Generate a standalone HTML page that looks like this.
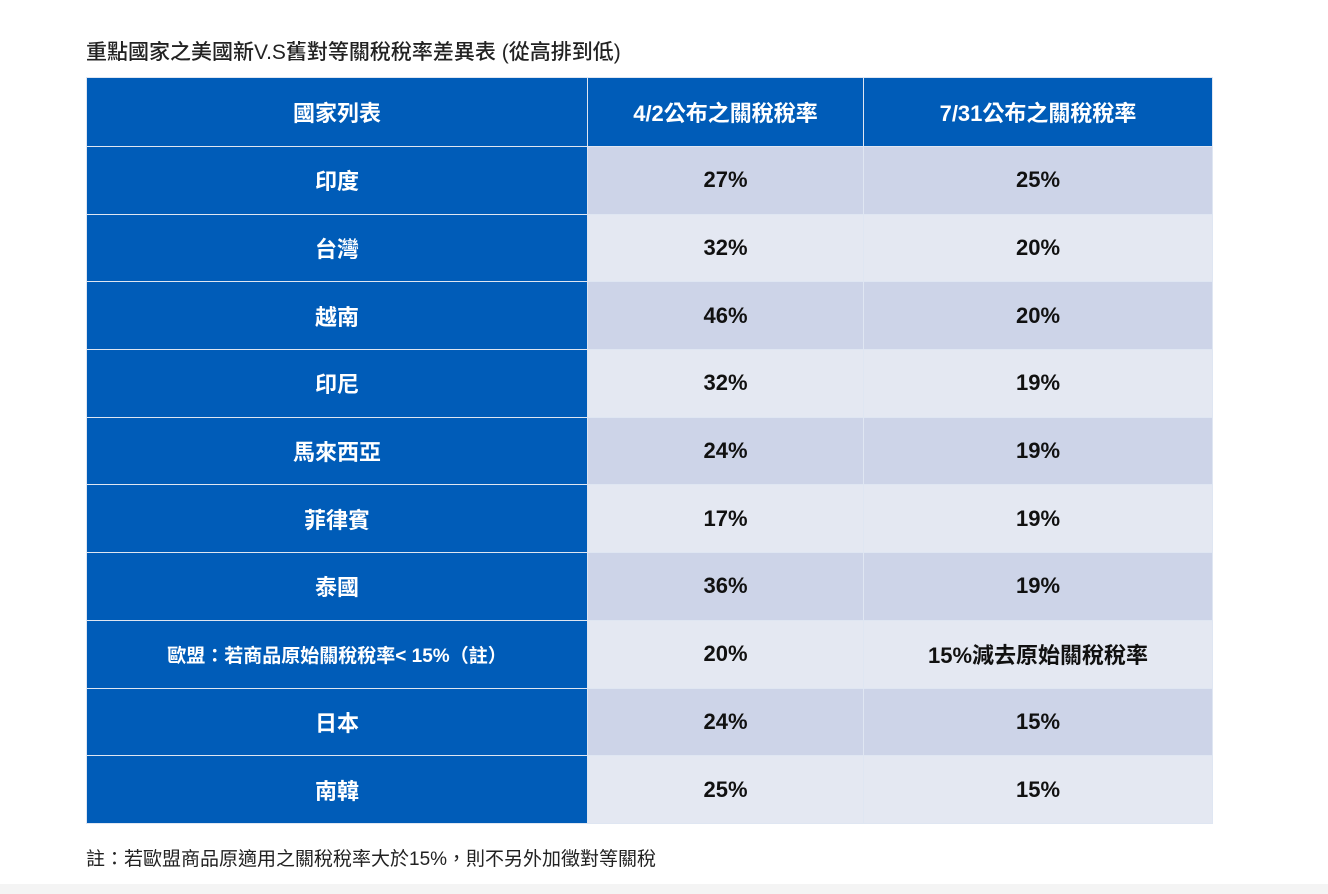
<!DOCTYPE html>
<html><head><meta charset="utf-8"><style>
body{margin:0;width:1328px;height:894px;background:#fff;position:relative;overflow:hidden;font-family:"Liberation Sans","Noto Sans CJK TC",sans-serif;}
#title{position:absolute;left:86px;top:36px;font-size:21px;color:#222;font-weight:500;white-space:nowrap;}
table{position:absolute;left:86px;top:77px;border-collapse:collapse;table-layout:fixed;width:1126px;}
td,th{text-align:center;vertical-align:middle;padding:0;border:1.5px solid #dfe6f2;}
th{background:#005cb8;color:#fff;font-size:22px;font-weight:bold;height:68px;}
td{height:66.7px;font-size:22px;font-weight:bold;color:#111;}
td.c{background:#005cb8;color:#fff;}
tr.o td:not(.c){background:#cdd4e8;}
tr.e td:not(.c){background:#e4e8f2;}
#note{position:absolute;left:86px;top:844px;font-size:19px;color:#222;white-space:nowrap;}
#band{position:absolute;left:0;top:884px;width:1328px;height:10px;background:#f4f4f4;}
</style></head><body>
<div id="title">重點國家之美國新V.S舊對等關稅稅率差異表 (從高排到低)</div>
<table>
<colgroup><col style="width:501px"><col style="width:276px"><col style="width:349px"></colgroup>
<tr><th>國家列表</th><th>4/2公布之關稅稅率</th><th>7/31公布之關稅稅率</th></tr>
<tr class="o"><td class="c">印度</td><td>27%</td><td>25%</td></tr>
<tr class="e"><td class="c">台灣</td><td>32%</td><td>20%</td></tr>
<tr class="o"><td class="c">越南</td><td>46%</td><td>20%</td></tr>
<tr class="e"><td class="c">印尼</td><td>32%</td><td>19%</td></tr>
<tr class="o"><td class="c">馬來西亞</td><td>24%</td><td>19%</td></tr>
<tr class="e"><td class="c">菲律賓</td><td>17%</td><td>19%</td></tr>
<tr class="o"><td class="c">泰國</td><td>36%</td><td>19%</td></tr>
<tr class="e"><td class="c" style="font-size:19px">歐盟：若商品原始關稅稅率&lt; 15%（註）</td><td>20%</td><td>15%減去原始關稅稅率</td></tr>
<tr class="o"><td class="c">日本</td><td>24%</td><td>15%</td></tr>
<tr class="e"><td class="c">南韓</td><td>25%</td><td>15%</td></tr>
</table>
<div id="note">註：若歐盟商品原適用之關稅稅率大於15%，則不另外加徵對等關稅</div>
<div id="band"></div>
</body></html>
